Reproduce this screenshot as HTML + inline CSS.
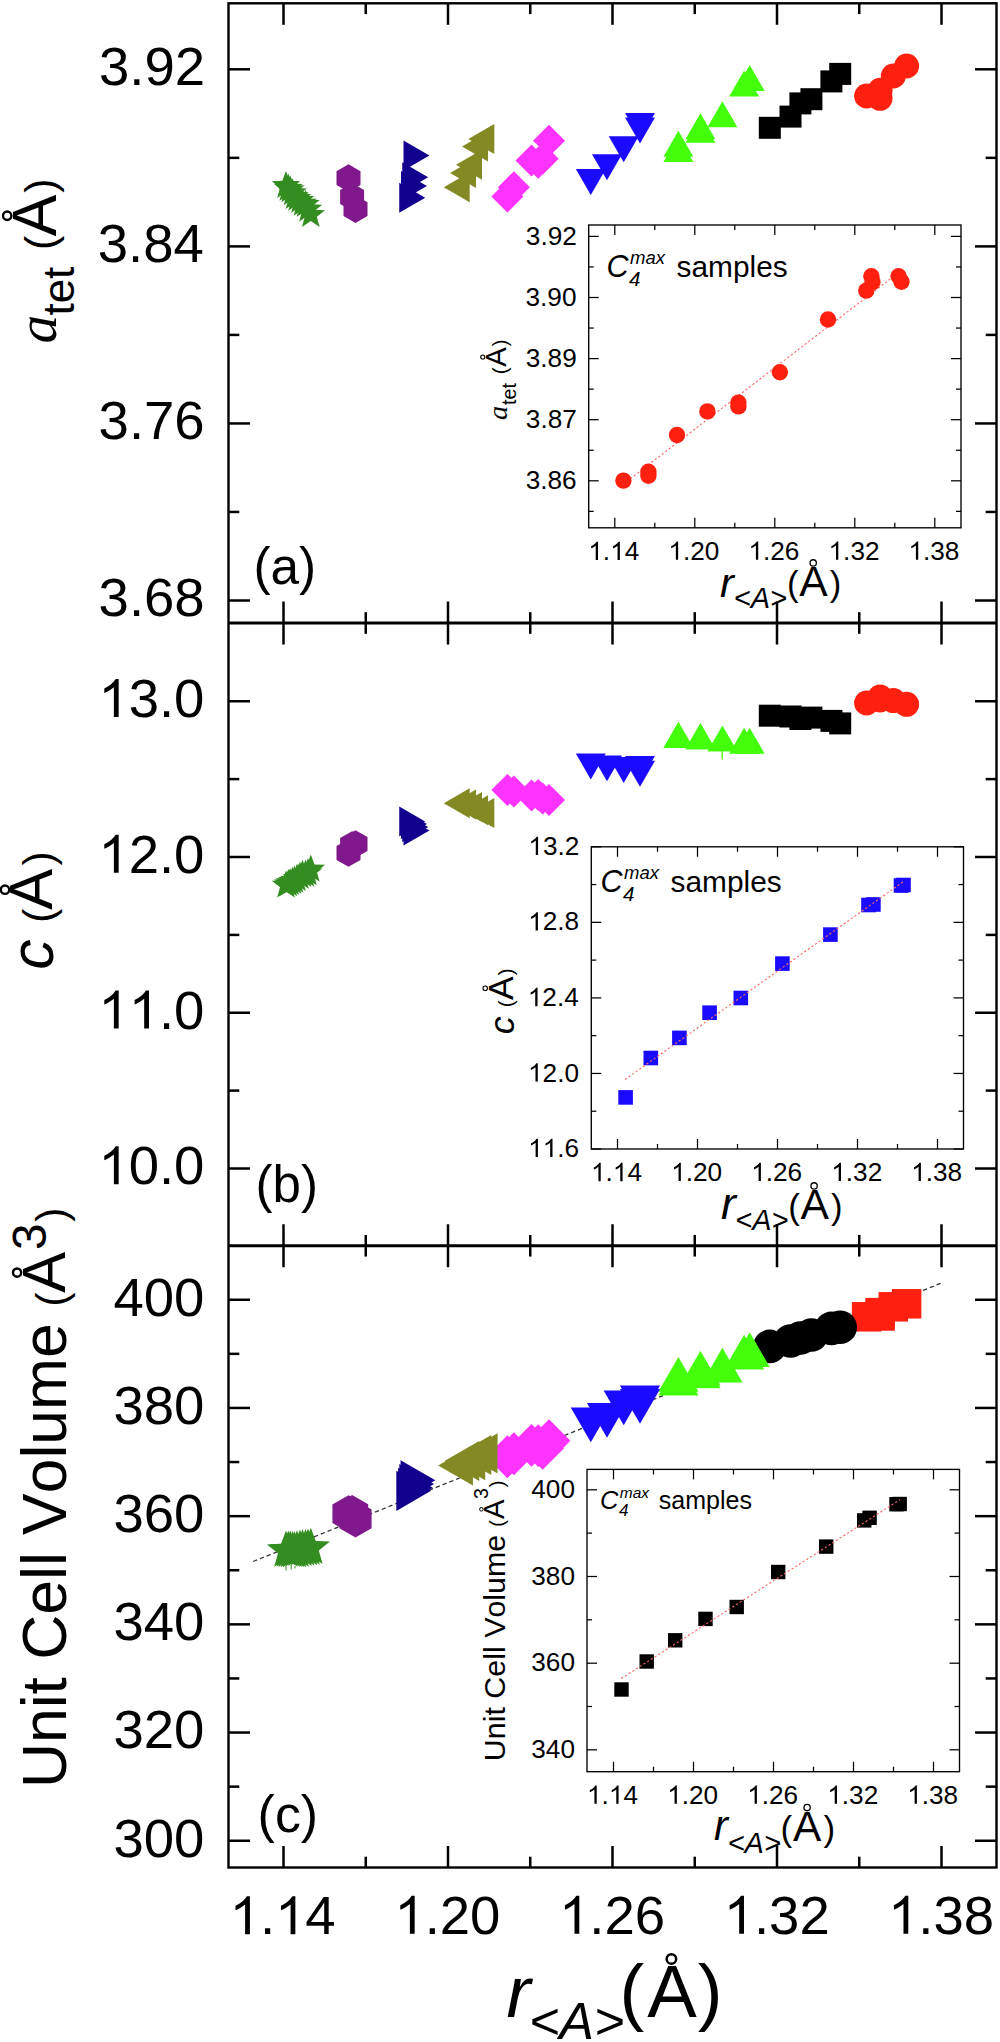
<!DOCTYPE html>
<html><head><meta charset="utf-8"><style>html,body{margin:0;padding:0;background:#fff;}svg{display:block;}text{font-kerning:none;}</style></head>
<body><svg width="1000" height="2042" viewBox="0 0 1000 2042">
<rect width="1000" height="2042" fill="#fff"/>
<rect x="228.5" y="3.3" width="768" height="1864.2" fill="none" stroke="#000" stroke-width="2.4"/>
<line x1="228.5" y1="623" x2="996.5" y2="623" stroke="#000" stroke-width="3"/>
<line x1="228.5" y1="1245.75" x2="996.5" y2="1245.75" stroke="#000" stroke-width="3"/>
<line x1="283.5" y1="3.3" x2="283.5" y2="24.8" stroke="#000" stroke-width="2.5"/>
<line x1="283.5" y1="623" x2="283.5" y2="601.5" stroke="#000" stroke-width="2.5"/>
<line x1="283.5" y1="623" x2="283.5" y2="644.5" stroke="#000" stroke-width="2.5"/>
<line x1="283.5" y1="1245.75" x2="283.5" y2="1224.25" stroke="#000" stroke-width="2.5"/>
<line x1="283.5" y1="1245.75" x2="283.5" y2="1267.25" stroke="#000" stroke-width="2.5"/>
<line x1="283.5" y1="1867.5" x2="283.5" y2="1846" stroke="#000" stroke-width="2.5"/>
<line x1="365.75" y1="3.3" x2="365.75" y2="14.1" stroke="#000" stroke-width="2.5"/>
<line x1="365.75" y1="623" x2="365.75" y2="612.2" stroke="#000" stroke-width="2.5"/>
<line x1="365.75" y1="623" x2="365.75" y2="633.8" stroke="#000" stroke-width="2.5"/>
<line x1="365.75" y1="1245.75" x2="365.75" y2="1234.95" stroke="#000" stroke-width="2.5"/>
<line x1="365.75" y1="1245.75" x2="365.75" y2="1256.55" stroke="#000" stroke-width="2.5"/>
<line x1="365.75" y1="1867.5" x2="365.75" y2="1856.7" stroke="#000" stroke-width="2.5"/>
<line x1="448" y1="3.3" x2="448" y2="24.8" stroke="#000" stroke-width="2.5"/>
<line x1="448" y1="623" x2="448" y2="601.5" stroke="#000" stroke-width="2.5"/>
<line x1="448" y1="623" x2="448" y2="644.5" stroke="#000" stroke-width="2.5"/>
<line x1="448" y1="1245.75" x2="448" y2="1224.25" stroke="#000" stroke-width="2.5"/>
<line x1="448" y1="1245.75" x2="448" y2="1267.25" stroke="#000" stroke-width="2.5"/>
<line x1="448" y1="1867.5" x2="448" y2="1846" stroke="#000" stroke-width="2.5"/>
<line x1="530.25" y1="3.3" x2="530.25" y2="14.1" stroke="#000" stroke-width="2.5"/>
<line x1="530.25" y1="623" x2="530.25" y2="612.2" stroke="#000" stroke-width="2.5"/>
<line x1="530.25" y1="623" x2="530.25" y2="633.8" stroke="#000" stroke-width="2.5"/>
<line x1="530.25" y1="1245.75" x2="530.25" y2="1234.95" stroke="#000" stroke-width="2.5"/>
<line x1="530.25" y1="1245.75" x2="530.25" y2="1256.55" stroke="#000" stroke-width="2.5"/>
<line x1="530.25" y1="1867.5" x2="530.25" y2="1856.7" stroke="#000" stroke-width="2.5"/>
<line x1="612.5" y1="3.3" x2="612.5" y2="24.8" stroke="#000" stroke-width="2.5"/>
<line x1="612.5" y1="623" x2="612.5" y2="601.5" stroke="#000" stroke-width="2.5"/>
<line x1="612.5" y1="623" x2="612.5" y2="644.5" stroke="#000" stroke-width="2.5"/>
<line x1="612.5" y1="1245.75" x2="612.5" y2="1224.25" stroke="#000" stroke-width="2.5"/>
<line x1="612.5" y1="1245.75" x2="612.5" y2="1267.25" stroke="#000" stroke-width="2.5"/>
<line x1="612.5" y1="1867.5" x2="612.5" y2="1846" stroke="#000" stroke-width="2.5"/>
<line x1="694.75" y1="3.3" x2="694.75" y2="14.1" stroke="#000" stroke-width="2.5"/>
<line x1="694.75" y1="623" x2="694.75" y2="612.2" stroke="#000" stroke-width="2.5"/>
<line x1="694.75" y1="623" x2="694.75" y2="633.8" stroke="#000" stroke-width="2.5"/>
<line x1="694.75" y1="1245.75" x2="694.75" y2="1234.95" stroke="#000" stroke-width="2.5"/>
<line x1="694.75" y1="1245.75" x2="694.75" y2="1256.55" stroke="#000" stroke-width="2.5"/>
<line x1="694.75" y1="1867.5" x2="694.75" y2="1856.7" stroke="#000" stroke-width="2.5"/>
<line x1="777" y1="3.3" x2="777" y2="24.8" stroke="#000" stroke-width="2.5"/>
<line x1="777" y1="623" x2="777" y2="601.5" stroke="#000" stroke-width="2.5"/>
<line x1="777" y1="623" x2="777" y2="644.5" stroke="#000" stroke-width="2.5"/>
<line x1="777" y1="1245.75" x2="777" y2="1224.25" stroke="#000" stroke-width="2.5"/>
<line x1="777" y1="1245.75" x2="777" y2="1267.25" stroke="#000" stroke-width="2.5"/>
<line x1="777" y1="1867.5" x2="777" y2="1846" stroke="#000" stroke-width="2.5"/>
<line x1="859.25" y1="3.3" x2="859.25" y2="14.1" stroke="#000" stroke-width="2.5"/>
<line x1="859.25" y1="623" x2="859.25" y2="612.2" stroke="#000" stroke-width="2.5"/>
<line x1="859.25" y1="623" x2="859.25" y2="633.8" stroke="#000" stroke-width="2.5"/>
<line x1="859.25" y1="1245.75" x2="859.25" y2="1234.95" stroke="#000" stroke-width="2.5"/>
<line x1="859.25" y1="1245.75" x2="859.25" y2="1256.55" stroke="#000" stroke-width="2.5"/>
<line x1="859.25" y1="1867.5" x2="859.25" y2="1856.7" stroke="#000" stroke-width="2.5"/>
<line x1="941.5" y1="3.3" x2="941.5" y2="24.8" stroke="#000" stroke-width="2.5"/>
<line x1="941.5" y1="623" x2="941.5" y2="601.5" stroke="#000" stroke-width="2.5"/>
<line x1="941.5" y1="623" x2="941.5" y2="644.5" stroke="#000" stroke-width="2.5"/>
<line x1="941.5" y1="1245.75" x2="941.5" y2="1224.25" stroke="#000" stroke-width="2.5"/>
<line x1="941.5" y1="1245.75" x2="941.5" y2="1267.25" stroke="#000" stroke-width="2.5"/>
<line x1="941.5" y1="1867.5" x2="941.5" y2="1846" stroke="#000" stroke-width="2.5"/>
<line x1="228.5" y1="69.3" x2="250" y2="69.3" stroke="#000" stroke-width="2.5"/>
<line x1="996.5" y1="69.3" x2="975" y2="69.3" stroke="#000" stroke-width="2.5"/>
<text x="98.97" y="85.17" font-family="'Liberation Sans', sans-serif" font-size="54.5" fill="#000">3.92</text>
<line x1="228.5" y1="246.4" x2="250" y2="246.4" stroke="#000" stroke-width="2.5"/>
<line x1="996.5" y1="246.4" x2="975" y2="246.4" stroke="#000" stroke-width="2.5"/>
<text x="97.82" y="262.27" font-family="'Liberation Sans', sans-serif" font-size="54.5" fill="#000">3.84</text>
<line x1="228.5" y1="423.45" x2="250" y2="423.45" stroke="#000" stroke-width="2.5"/>
<line x1="996.5" y1="423.45" x2="975" y2="423.45" stroke="#000" stroke-width="2.5"/>
<text x="98.62" y="439.32" font-family="'Liberation Sans', sans-serif" font-size="54.5" fill="#000">3.76</text>
<line x1="228.5" y1="600.5" x2="250" y2="600.5" stroke="#000" stroke-width="2.5"/>
<line x1="996.5" y1="600.5" x2="975" y2="600.5" stroke="#000" stroke-width="2.5"/>
<text x="98.6" y="616.37" font-family="'Liberation Sans', sans-serif" font-size="54.5" fill="#000">3.68</text>
<line x1="228.5" y1="157.85" x2="239.3" y2="157.85" stroke="#000" stroke-width="2.5"/>
<line x1="996.5" y1="157.85" x2="985.7" y2="157.85" stroke="#000" stroke-width="2.5"/>
<line x1="228.5" y1="334.9" x2="239.3" y2="334.9" stroke="#000" stroke-width="2.5"/>
<line x1="996.5" y1="334.9" x2="985.7" y2="334.9" stroke="#000" stroke-width="2.5"/>
<line x1="228.5" y1="511.95" x2="239.3" y2="511.95" stroke="#000" stroke-width="2.5"/>
<line x1="996.5" y1="511.95" x2="985.7" y2="511.95" stroke="#000" stroke-width="2.5"/>
<line x1="228.5" y1="701.25" x2="250" y2="701.25" stroke="#000" stroke-width="2.5"/>
<line x1="996.5" y1="701.25" x2="975" y2="701.25" stroke="#000" stroke-width="2.5"/>
<path d="M763 0H583V1118Q518 1058 412 997Q306 937 223 907V1076Q375 1146 489 1244Q603 1343 650 1429H763Z" fill="#000" transform="translate(98.36 717.12) scale(0.02661 -0.02661)"/>
<text x="128.67" y="717.12" font-family="'Liberation Sans', sans-serif" font-size="54.5" fill="#000">3.0</text>
<line x1="228.5" y1="857" x2="250" y2="857" stroke="#000" stroke-width="2.5"/>
<line x1="996.5" y1="857" x2="975" y2="857" stroke="#000" stroke-width="2.5"/>
<path d="M763 0H583V1118Q518 1058 412 997Q306 937 223 907V1076Q375 1146 489 1244Q603 1343 650 1429H763Z" fill="#000" transform="translate(98.36 872.87) scale(0.02661 -0.02661)"/>
<text x="128.67" y="872.87" font-family="'Liberation Sans', sans-serif" font-size="54.5" fill="#000">2.0</text>
<line x1="228.5" y1="1012.75" x2="250" y2="1012.75" stroke="#000" stroke-width="2.5"/>
<line x1="996.5" y1="1012.75" x2="975" y2="1012.75" stroke="#000" stroke-width="2.5"/>
<path d="M763 0H583V1118Q518 1058 412 997Q306 937 223 907V1076Q375 1146 489 1244Q603 1343 650 1429H763Z" fill="#000" transform="translate(98.36 1028.62) scale(0.02661 -0.02661)"/>
<path d="M763 0H583V1118Q518 1058 412 997Q306 937 223 907V1076Q375 1146 489 1244Q603 1343 650 1429H763Z" fill="#000" transform="translate(128.67 1028.62) scale(0.02661 -0.02661)"/>
<text x="158.98" y="1028.62" font-family="'Liberation Sans', sans-serif" font-size="54.5" fill="#000">.0</text>
<line x1="228.5" y1="1168.5" x2="250" y2="1168.5" stroke="#000" stroke-width="2.5"/>
<line x1="996.5" y1="1168.5" x2="975" y2="1168.5" stroke="#000" stroke-width="2.5"/>
<path d="M763 0H583V1118Q518 1058 412 997Q306 937 223 907V1076Q375 1146 489 1244Q603 1343 650 1429H763Z" fill="#000" transform="translate(98.36 1184.37) scale(0.02661 -0.02661)"/>
<text x="128.67" y="1184.37" font-family="'Liberation Sans', sans-serif" font-size="54.5" fill="#000">0.0</text>
<line x1="228.5" y1="779.1" x2="239.3" y2="779.1" stroke="#000" stroke-width="2.5"/>
<line x1="996.5" y1="779.1" x2="985.7" y2="779.1" stroke="#000" stroke-width="2.5"/>
<line x1="228.5" y1="934.9" x2="239.3" y2="934.9" stroke="#000" stroke-width="2.5"/>
<line x1="996.5" y1="934.9" x2="985.7" y2="934.9" stroke="#000" stroke-width="2.5"/>
<line x1="228.5" y1="1090.6" x2="239.3" y2="1090.6" stroke="#000" stroke-width="2.5"/>
<line x1="996.5" y1="1090.6" x2="985.7" y2="1090.6" stroke="#000" stroke-width="2.5"/>
<line x1="228.5" y1="1299.75" x2="250" y2="1299.75" stroke="#000" stroke-width="2.5"/>
<line x1="996.5" y1="1299.75" x2="975" y2="1299.75" stroke="#000" stroke-width="2.5"/>
<text x="113.5" y="1315.62" font-family="'Liberation Sans', sans-serif" font-size="54.5" fill="#000">400</text>
<line x1="228.5" y1="1407.95" x2="250" y2="1407.95" stroke="#000" stroke-width="2.5"/>
<line x1="996.5" y1="1407.95" x2="975" y2="1407.95" stroke="#000" stroke-width="2.5"/>
<text x="113.5" y="1423.82" font-family="'Liberation Sans', sans-serif" font-size="54.5" fill="#000">380</text>
<line x1="228.5" y1="1516.15" x2="250" y2="1516.15" stroke="#000" stroke-width="2.5"/>
<line x1="996.5" y1="1516.15" x2="975" y2="1516.15" stroke="#000" stroke-width="2.5"/>
<text x="113.5" y="1532.02" font-family="'Liberation Sans', sans-serif" font-size="54.5" fill="#000">360</text>
<line x1="228.5" y1="1624.35" x2="250" y2="1624.35" stroke="#000" stroke-width="2.5"/>
<line x1="996.5" y1="1624.35" x2="975" y2="1624.35" stroke="#000" stroke-width="2.5"/>
<text x="113.5" y="1640.22" font-family="'Liberation Sans', sans-serif" font-size="54.5" fill="#000">340</text>
<line x1="228.5" y1="1732.55" x2="250" y2="1732.55" stroke="#000" stroke-width="2.5"/>
<line x1="996.5" y1="1732.55" x2="975" y2="1732.55" stroke="#000" stroke-width="2.5"/>
<text x="113.5" y="1748.42" font-family="'Liberation Sans', sans-serif" font-size="54.5" fill="#000">320</text>
<line x1="228.5" y1="1840.75" x2="250" y2="1840.75" stroke="#000" stroke-width="2.5"/>
<line x1="996.5" y1="1840.75" x2="975" y2="1840.75" stroke="#000" stroke-width="2.5"/>
<text x="113.5" y="1856.62" font-family="'Liberation Sans', sans-serif" font-size="54.5" fill="#000">300</text>
<line x1="228.5" y1="1353.85" x2="239.3" y2="1353.85" stroke="#000" stroke-width="2.5"/>
<line x1="996.5" y1="1353.85" x2="985.7" y2="1353.85" stroke="#000" stroke-width="2.5"/>
<line x1="228.5" y1="1462.05" x2="239.3" y2="1462.05" stroke="#000" stroke-width="2.5"/>
<line x1="996.5" y1="1462.05" x2="985.7" y2="1462.05" stroke="#000" stroke-width="2.5"/>
<line x1="228.5" y1="1570.25" x2="239.3" y2="1570.25" stroke="#000" stroke-width="2.5"/>
<line x1="996.5" y1="1570.25" x2="985.7" y2="1570.25" stroke="#000" stroke-width="2.5"/>
<line x1="228.5" y1="1678.45" x2="239.3" y2="1678.45" stroke="#000" stroke-width="2.5"/>
<line x1="996.5" y1="1678.45" x2="985.7" y2="1678.45" stroke="#000" stroke-width="2.5"/>
<line x1="228.5" y1="1786.65" x2="239.3" y2="1786.65" stroke="#000" stroke-width="2.5"/>
<line x1="996.5" y1="1786.65" x2="985.7" y2="1786.65" stroke="#000" stroke-width="2.5"/>
<path d="M763 0H583V1118Q518 1058 412 997Q306 937 223 907V1076Q375 1146 489 1244Q603 1343 650 1429H763Z" fill="#000" transform="translate(229.59 1934.3) scale(0.02661 -0.02661)"/>
<text x="259.91" y="1934.3" font-family="'Liberation Sans', sans-serif" font-size="54.5" fill="#000">.</text>
<path d="M763 0H583V1118Q518 1058 412 997Q306 937 223 907V1076Q375 1146 489 1244Q603 1343 650 1429H763Z" fill="#000" transform="translate(275.05 1934.3) scale(0.02661 -0.02661)"/>
<text x="305.36" y="1934.3" font-family="'Liberation Sans', sans-serif" font-size="54.5" fill="#000">4</text>
<path d="M763 0H583V1118Q518 1058 412 997Q306 937 223 907V1076Q375 1146 489 1244Q603 1343 650 1429H763Z" fill="#000" transform="translate(394.36 1933.77) scale(0.02661 -0.02661)"/>
<text x="424.67" y="1933.77" font-family="'Liberation Sans', sans-serif" font-size="54.5" fill="#000">.20</text>
<path d="M763 0H583V1118Q518 1058 412 997Q306 937 223 907V1076Q375 1146 489 1244Q603 1343 650 1429H763Z" fill="#000" transform="translate(558.99 1933.77) scale(0.02661 -0.02661)"/>
<text x="589.3" y="1933.77" font-family="'Liberation Sans', sans-serif" font-size="54.5" fill="#000">.26</text>
<path d="M763 0H583V1118Q518 1058 412 997Q306 937 223 907V1076Q375 1146 489 1244Q603 1343 650 1429H763Z" fill="#000" transform="translate(723.67 1933.77) scale(0.02661 -0.02661)"/>
<text x="753.98" y="1933.77" font-family="'Liberation Sans', sans-serif" font-size="54.5" fill="#000">.32</text>
<path d="M763 0H583V1118Q518 1058 412 997Q306 937 223 907V1076Q375 1146 489 1244Q603 1343 650 1429H763Z" fill="#000" transform="translate(887.98 1933.77) scale(0.02661 -0.02661)"/>
<text x="918.29" y="1933.77" font-family="'Liberation Sans', sans-serif" font-size="54.5" fill="#000">.38</text>
<text x="253.38" y="583.53" font-family="'Liberation Sans', sans-serif" font-size="51.33" fill="#000">(a)</text>
<text x="255.54" y="1202.22" font-family="'Liberation Sans', sans-serif" font-size="51.07" fill="#000">(b)</text>
<text x="257.61" y="1831.68" font-family="'Liberation Sans', sans-serif" font-size="51.91" fill="#000">(c)</text>
<text x="506.41" y="2017.1" font-family="'Liberation Sans', sans-serif" font-style="italic" font-size="72.48" fill="#000">r</text>
<text x="528.98" y="2039.15" font-family="'Liberation Sans', sans-serif" font-style="italic" font-size="52.04" fill="#000">&lt;A&gt;</text>
<text x="619.58" y="2017.2" font-family="'Liberation Sans', sans-serif" font-size="74.38" fill="#000">(</text>
<text x="647.27" y="2016.91" font-family="'Liberation Sans', sans-serif" font-size="74.3" fill="#000">A</text>
<circle cx="671.4" cy="1959.1" r="4.75" fill="none" stroke="#000" stroke-width="2.5"/>
<text x="697.85" y="2017.2" font-family="'Liberation Sans', sans-serif" font-size="74.38" fill="#000">)</text>
<text transform="translate(55.71 343.52) rotate(-90)" font-family="'Liberation Serif', serif" font-style="italic" font-size="57.18" fill="#000">a</text>
<text transform="translate(73.87 315.6) rotate(-90)" font-family="'Liberation Sans', sans-serif" font-size="44.04" fill="#000">tet</text>
<text transform="translate(55.4 250.12) rotate(-90)" font-family="'Liberation Sans', sans-serif" font-size="42.51" fill="#000">(</text>
<text transform="translate(55.55 236.37) rotate(-90)" font-family="'Liberation Sans', sans-serif" font-size="62.28" fill="#000">A</text>
<circle cx="7.2" cy="215.75" r="4.2" fill="none" stroke="#000" stroke-width="2.4"/>
<text transform="translate(55.4 192.63) rotate(-90)" font-family="'Liberation Sans', sans-serif" font-size="42.51" fill="#000">)</text>
<text transform="translate(53 969.8) rotate(-90)" font-family="'Liberation Sans', sans-serif" font-style="italic" font-size="60.97" fill="#000">c</text>
<text transform="translate(52.64 922.83) rotate(-90)" font-family="'Liberation Sans', sans-serif" font-size="42.29" fill="#000">(</text>
<text transform="translate(52.27 909.65) rotate(-90)" font-family="'Liberation Sans', sans-serif" font-size="61.46" fill="#000">A</text>
<circle cx="5" cy="889.7" r="4.2" fill="none" stroke="#000" stroke-width="2.4"/>
<text transform="translate(52.64 865.55) rotate(-90)" font-family="'Liberation Sans', sans-serif" font-size="42.29" fill="#000">)</text>
<text transform="translate(65.99 1788.01) rotate(-90)" font-family="'Liberation Sans', sans-serif" font-size="62.4" fill="#000">Unit Cell Volume</text>
<text transform="translate(65.59 1306.49) rotate(-90)" font-family="'Liberation Sans', sans-serif" font-size="42.08" fill="#000">(</text>
<text transform="translate(65.01 1292.69) rotate(-90)" font-family="'Liberation Sans', sans-serif" font-size="61.45" fill="#000">A</text>
<circle cx="17.1" cy="1272.6" r="4.1" fill="none" stroke="#000" stroke-width="2.4"/>
<text transform="translate(45.93 1249.99) rotate(-90)" font-family="'Liberation Sans', sans-serif" font-size="47.74" fill="#000">3</text>
<text transform="translate(65.59 1221.67) rotate(-90)" font-family="'Liberation Sans', sans-serif" font-size="42.08" fill="#000">)</text>
<line x1="253.1" y1="1561.5" x2="942.9" y2="1282.4" stroke="#333" stroke-width="1.3" stroke-dasharray="4.3 3"/>
<circle cx="866.6" cy="96" r="12.5" fill="#FF2010"/>
<circle cx="880.1" cy="90.3" r="12.5" fill="#FF2010"/>
<circle cx="880.1" cy="98.3" r="12.5" fill="#FF2010"/>
<circle cx="893.3" cy="76" r="12.5" fill="#FF2010"/>
<circle cx="906.6" cy="66" r="12.5" fill="#FF2010"/>
<rect x="758.8" y="116.8" width="22" height="22" fill="#000000"/>
<rect x="779.5" y="105.6" width="22" height="22" fill="#000000"/>
<rect x="789.4" y="92.4" width="22" height="22" fill="#000000"/>
<rect x="800.4" y="88.2" width="22" height="22" fill="#000000"/>
<rect x="820.4" y="70.4" width="22" height="22" fill="#000000"/>
<rect x="829.2" y="62.9" width="22" height="22" fill="#000000"/>
<polygon points="678.4,130.8 693.38,156.75 663.42,156.75" fill="#44FF0A"/>
<polygon points="678.4,136.1 693.38,162.05 663.42,162.05" fill="#44FF0A"/>
<polygon points="700.4,113.2 715.38,139.15 685.42,139.15" fill="#44FF0A"/>
<polygon points="700.4,116.7 715.38,142.65 685.42,142.65" fill="#44FF0A"/>
<polygon points="722.4,101.3 737.38,127.25 707.42,127.25" fill="#44FF0A"/>
<polygon points="744.1,70.5 759.08,96.45 729.12,96.45" fill="#44FF0A"/>
<polygon points="749.7,65 764.68,90.95 734.72,90.95" fill="#44FF0A"/>
<polygon points="590.8,195.05 575.82,169.1 605.78,169.1" fill="#1A0AFF"/>
<polygon points="607,180.25 592.02,154.3 621.98,154.3" fill="#1A0AFF"/>
<polygon points="623.7,162.25 608.72,136.3 638.68,136.3" fill="#1A0AFF"/>
<polygon points="640,138.85 625.02,112.9 654.98,112.9" fill="#1A0AFF"/>
<polygon points="640,143.55 625.02,117.6 654.98,117.6" fill="#1A0AFF"/>
<polygon points="507.4,180.6 523.4,196.6 507.4,212.6 491.4,196.6" fill="#FF33FF"/>
<polygon points="513.9,171.2 529.9,187.2 513.9,203.2 497.9,187.2" fill="#FF33FF"/>
<polygon points="531.5,144.4 547.5,160.4 531.5,176.4 515.5,160.4" fill="#FF33FF"/>
<polygon points="538.2,146.8 554.2,162.8 538.2,178.8 522.2,162.8" fill="#FF33FF"/>
<polygon points="542.6,142.8 558.6,158.8 542.6,174.8 526.6,158.8" fill="#FF33FF"/>
<polygon points="549,124.8 565,140.8 549,156.8 533,140.8" fill="#FF33FF"/>
<polygon points="443.75,187.2 469.7,172.22 469.7,202.18" fill="#838923"/>
<polygon points="450.05,173.1 476,158.12 476,188.08" fill="#838923"/>
<polygon points="456.05,164.7 482,149.72 482,179.68" fill="#838923"/>
<polygon points="462.05,146.4 488,131.42 488,161.38" fill="#838923"/>
<polygon points="468.35,138.9 494.3,123.92 494.3,153.88" fill="#838923"/>
<polygon points="425.2,197.75 399.25,212.73 399.25,182.77" fill="#12008E"/>
<polygon points="426.95,186 401,200.98 401,171.02" fill="#12008E"/>
<polygon points="428.2,177.25 402.25,192.23 402.25,162.27" fill="#12008E"/>
<polygon points="429.45,155.5 403.5,170.48 403.5,140.52" fill="#12008E"/>
<polygon points="348.5,164.24 360.5,171.17 360.5,185.03 348.5,191.96 336.5,185.03 336.5,171.17" fill="#801A8C"/>
<polygon points="352.1,183.14 364.1,190.07 364.1,203.93 352.1,210.86 340.1,203.93 340.1,190.07" fill="#801A8C"/>
<polygon points="355.5,195.24 367.5,202.17 367.5,216.03 355.5,222.96 343.5,216.03 343.5,202.17" fill="#801A8C"/>
<polygon points="286,170.9 289.7,180.8 300.27,181.26 291.99,187.85 294.82,198.04 286,192.2 277.18,198.04 280.01,187.85 271.73,181.26 282.3,180.8" fill="#348D20"/>
<polygon points="288.3,173.53 292,183.43 302.57,183.89 294.29,190.48 297.12,200.66 288.3,194.83 279.48,200.66 282.31,190.48 274.03,183.89 284.6,183.43" fill="#348D20"/>
<polygon points="290.2,175.17 293.9,185.08 304.47,185.54 296.19,192.12 299.02,202.31 290.2,196.47 281.38,202.31 284.21,192.12 275.93,185.54 286.5,185.08" fill="#348D20"/>
<polygon points="292.5,178.13 296.2,188.03 306.77,188.49 298.49,195.08 301.32,205.26 292.5,199.43 283.68,205.26 286.51,195.08 278.23,188.49 288.8,188.03" fill="#348D20"/>
<polygon points="294.5,181.78 298.2,191.68 308.77,192.14 300.49,198.73 303.32,208.91 294.5,203.08 285.68,208.91 288.51,198.73 280.23,192.14 290.8,191.68" fill="#348D20"/>
<polygon points="297,183.52 300.7,193.42 311.27,193.88 302.99,200.47 305.82,210.65 297,204.82 288.18,210.65 291.01,200.47 282.73,193.88 293.3,193.42" fill="#348D20"/>
<polygon points="300,185.73 303.7,195.64 314.27,196.1 305.99,202.68 308.82,212.87 300,207.03 291.18,212.87 294.01,202.68 285.73,196.1 296.3,195.64" fill="#348D20"/>
<polygon points="302.5,188.5 306.2,198.4 316.77,198.86 308.49,205.45 311.32,215.64 302.5,209.8 293.68,215.64 296.51,205.45 288.23,198.86 298.8,198.4" fill="#348D20"/>
<polygon points="305.5,189.7 309.2,199.6 319.77,200.06 311.49,206.65 314.32,216.84 305.5,211 296.68,216.84 299.51,206.65 291.23,200.06 301.8,199.6" fill="#348D20"/>
<polygon points="308,194.3 311.7,204.2 322.27,204.66 313.99,211.25 316.82,221.44 308,215.6 299.18,221.44 302.01,211.25 293.73,204.66 304.3,204.2" fill="#348D20"/>
<polygon points="310.8,199.8 314.5,209.7 325.07,210.16 316.79,216.75 319.62,226.94 310.8,221.1 301.98,226.94 304.81,216.75 296.53,210.16 307.1,209.7" fill="#348D20"/>
<circle cx="866.6" cy="703" r="12.5" fill="#FF2010"/>
<circle cx="880.1" cy="697" r="12.5" fill="#FF2010"/>
<circle cx="880.1" cy="700" r="12.5" fill="#FF2010"/>
<circle cx="893.3" cy="700.6" r="12.5" fill="#FF2010"/>
<circle cx="906.6" cy="704.3" r="12.5" fill="#FF2010"/>
<rect x="758.8" y="704.7" width="22" height="22" fill="#000000"/>
<rect x="779.5" y="705.5" width="22" height="22" fill="#000000"/>
<rect x="789.4" y="708" width="22" height="22" fill="#000000"/>
<rect x="800.4" y="706.6" width="22" height="22" fill="#000000"/>
<rect x="820.4" y="709.9" width="22" height="22" fill="#000000"/>
<rect x="829.2" y="712.4" width="22" height="22" fill="#000000"/>
<polygon points="678.4,722 693.38,747.95 663.42,747.95" fill="#44FF0A"/>
<polygon points="678.4,722 693.38,747.95 663.42,747.95" fill="#44FF0A"/>
<polygon points="700.4,723.2 715.38,749.15 685.42,749.15" fill="#44FF0A"/>
<polygon points="700.4,723.2 715.38,749.15 685.42,749.15" fill="#44FF0A"/>
<polygon points="722.4,725.6 737.38,751.55 707.42,751.55" fill="#44FF0A"/>
<polygon points="744.1,727.8 759.08,753.75 729.12,753.75" fill="#44FF0A"/>
<polygon points="749.7,727.8 764.68,753.75 734.72,753.75" fill="#44FF0A"/>
<polygon points="590.8,779.45 575.82,753.5 605.78,753.5" fill="#1A0AFF"/>
<polygon points="607,781.35 592.02,755.4 621.98,755.4" fill="#1A0AFF"/>
<polygon points="623.7,782.95 608.72,757 638.68,757" fill="#1A0AFF"/>
<polygon points="640,781.95 625.02,756 654.98,756" fill="#1A0AFF"/>
<polygon points="640,786.75 625.02,760.8 654.98,760.8" fill="#1A0AFF"/>
<polygon points="507.4,774 523.4,790 507.4,806 491.4,790" fill="#FF33FF"/>
<polygon points="513.9,775.4 529.9,791.4 513.9,807.4 497.9,791.4" fill="#FF33FF"/>
<polygon points="531.5,779.4 547.5,795.4 531.5,811.4 515.5,795.4" fill="#FF33FF"/>
<polygon points="538.2,779 554.2,795 538.2,811 522.2,795" fill="#FF33FF"/>
<polygon points="542.6,782.5 558.6,798.5 542.6,814.5 526.6,798.5" fill="#FF33FF"/>
<polygon points="549,783.9 565,799.9 549,815.9 533,799.9" fill="#FF33FF"/>
<polygon points="443.75,803.15 469.7,788.17 469.7,818.13" fill="#838923"/>
<polygon points="450.05,804.45 476,789.47 476,819.43" fill="#838923"/>
<polygon points="456.05,807.1 482,792.12 482,822.08" fill="#838923"/>
<polygon points="462.05,810.3 488,795.32 488,825.28" fill="#838923"/>
<polygon points="468.35,812.9 494.3,797.92 494.3,827.88" fill="#838923"/>
<polygon points="425.2,821.5 399.25,836.48 399.25,806.52" fill="#12008E"/>
<polygon points="426.95,824 401,838.98 401,809.02" fill="#12008E"/>
<polygon points="428.2,827 402.25,841.98 402.25,812.02" fill="#12008E"/>
<polygon points="429.45,830.5 403.5,845.48 403.5,815.52" fill="#12008E"/>
<polygon points="348.5,839.14 360.5,846.07 360.5,859.93 348.5,866.86 336.5,859.93 336.5,846.07" fill="#801A8C"/>
<polygon points="352.1,831.14 364.1,838.07 364.1,851.93 352.1,858.86 340.1,851.93 340.1,838.07" fill="#801A8C"/>
<polygon points="355.5,830.14 367.5,837.07 367.5,850.93 355.5,857.86 343.5,850.93 343.5,837.07" fill="#801A8C"/>
<polygon points="286,870.4 289.7,880.3 300.27,880.76 291.99,887.35 294.82,897.54 286,891.7 277.18,897.54 280.01,887.35 271.73,880.76 282.3,880.3" fill="#348D20"/>
<polygon points="288.3,869.07 292,878.97 302.57,879.44 294.29,886.02 297.12,896.21 288.3,890.37 279.48,896.21 282.31,886.02 274.03,879.44 284.6,878.97" fill="#348D20"/>
<polygon points="290.2,867.97 293.9,877.88 304.47,878.34 296.19,884.92 299.02,895.11 290.2,889.27 281.38,895.11 284.21,884.92 275.93,878.34 286.5,877.88" fill="#348D20"/>
<polygon points="292.5,866.66 296.2,876.56 306.77,877.02 298.49,883.6 301.32,893.79 292.5,887.96 283.68,893.79 286.51,883.6 278.23,877.02 288.8,876.56" fill="#348D20"/>
<polygon points="294.5,865.51 298.2,875.42 308.77,875.88 300.49,882.46 303.32,892.65 294.5,886.81 285.68,892.65 288.51,882.46 280.23,875.88 290.8,875.42" fill="#348D20"/>
<polygon points="297,863.81 300.7,873.71 311.27,874.18 302.99,880.76 305.82,890.95 297,885.11 288.18,890.95 291.01,880.76 282.73,874.18 293.3,873.71" fill="#348D20"/>
<polygon points="300,861.58 303.7,871.49 314.27,871.95 305.99,878.53 308.82,888.72 300,882.88 291.18,888.72 294.01,878.53 285.73,871.95 296.3,871.49" fill="#348D20"/>
<polygon points="302.5,859.79 306.2,869.69 316.77,870.16 308.49,876.74 311.32,886.93 302.5,881.09 293.68,886.93 296.51,876.74 288.23,870.16 298.8,869.69" fill="#348D20"/>
<polygon points="305.5,859.53 309.2,869.43 319.77,869.9 311.49,876.48 314.32,886.67 305.5,880.83 296.68,886.67 299.51,876.48 291.23,869.9 301.8,869.43" fill="#348D20"/>
<polygon points="308,858.11 311.7,868.01 322.27,868.48 313.99,875.06 316.82,885.25 308,879.41 299.18,885.25 302.01,875.06 293.73,868.48 304.3,868.01" fill="#348D20"/>
<polygon points="310.8,854.5 314.5,864.4 325.07,864.86 316.79,871.45 319.62,881.64 310.8,875.8 301.98,881.64 304.81,871.45 296.53,864.86 307.1,864.4" fill="#348D20"/>
<rect x="851.85" y="1302.05" width="29.5" height="29.5" fill="#FF2010"/>
<rect x="865.35" y="1297.85" width="29.5" height="29.5" fill="#FF2010"/>
<rect x="865.35" y="1301.25" width="29.5" height="29.5" fill="#FF2010"/>
<rect x="878.55" y="1292.05" width="29.5" height="29.5" fill="#FF2010"/>
<rect x="891.85" y="1289.05" width="29.5" height="29.5" fill="#FF2010"/>
<circle cx="769.8" cy="1346.4" r="16.8" fill="#000000"/>
<circle cx="790.5" cy="1341" r="16.8" fill="#000000"/>
<circle cx="800.4" cy="1338" r="16.8" fill="#000000"/>
<circle cx="811.4" cy="1335" r="16.8" fill="#000000"/>
<circle cx="831.4" cy="1328.4" r="16.8" fill="#000000"/>
<circle cx="840.2" cy="1327.2" r="16.8" fill="#000000"/>
<polygon points="678.4,1356.9 698.48,1391.67 658.32,1391.67" fill="#44FF0A"/>
<polygon points="678.4,1360.8 698.48,1395.57 658.32,1395.57" fill="#44FF0A"/>
<polygon points="700.4,1350.8 720.48,1385.57 680.32,1385.57" fill="#44FF0A"/>
<polygon points="700.4,1353.4 720.48,1388.17 680.32,1388.17" fill="#44FF0A"/>
<polygon points="722.4,1347.8 742.48,1382.57 702.32,1382.57" fill="#44FF0A"/>
<polygon points="744.1,1334.8 764.18,1369.57 724.02,1369.57" fill="#44FF0A"/>
<polygon points="749.7,1332.2 769.78,1366.97 729.62,1366.97" fill="#44FF0A"/>
<polygon points="590.8,1442.27 570.72,1407.5 610.88,1407.5" fill="#1A0AFF"/>
<polygon points="607,1437.77 586.92,1403 627.08,1403" fill="#1A0AFF"/>
<polygon points="623.7,1425.27 603.62,1390.5 643.78,1390.5" fill="#1A0AFF"/>
<polygon points="640,1420.27 619.92,1385.5 660.08,1385.5" fill="#1A0AFF"/>
<polygon points="640,1423.77 619.92,1389 660.08,1389" fill="#1A0AFF"/>
<polygon points="507.4,1435.31 528.84,1456.75 507.4,1478.19 485.96,1456.75" fill="#FF33FF"/>
<polygon points="513.9,1432.26 535.34,1453.7 513.9,1475.14 492.46,1453.7" fill="#FF33FF"/>
<polygon points="531.5,1423.96 552.94,1445.4 531.5,1466.84 510.06,1445.4" fill="#FF33FF"/>
<polygon points="538.2,1424.16 559.64,1445.6 538.2,1467.04 516.76,1445.6" fill="#FF33FF"/>
<polygon points="542.6,1426.76 564.04,1448.2 542.6,1469.64 521.16,1448.2" fill="#FF33FF"/>
<polygon points="549,1419.31 570.44,1440.75 549,1462.19 527.56,1440.75" fill="#FF33FF"/>
<polygon points="438.17,1465.4 472.94,1445.32 472.94,1485.48" fill="#838923"/>
<polygon points="444.47,1461 479.24,1440.92 479.24,1481.08" fill="#838923"/>
<polygon points="450.47,1460.2 485.24,1440.12 485.24,1480.28" fill="#838923"/>
<polygon points="456.47,1455 491.24,1434.92 491.24,1475.08" fill="#838923"/>
<polygon points="462.77,1453.4 497.54,1433.32 497.54,1473.48" fill="#838923"/>
<polygon points="431.08,1490.8 396.31,1510.88 396.31,1470.72" fill="#12008E"/>
<polygon points="432.83,1487.8 398.06,1507.88 398.06,1467.72" fill="#12008E"/>
<polygon points="434.08,1484 399.31,1504.08 399.31,1463.92" fill="#12008E"/>
<polygon points="435.33,1480.3 400.56,1500.38 400.56,1460.22" fill="#12008E"/>
<polygon points="348.5,1495.23 364.58,1504.51 364.58,1523.09 348.5,1532.37 332.42,1523.09 332.42,1504.51" fill="#801A8C"/>
<polygon points="352.1,1494.93 368.18,1504.21 368.18,1522.79 352.1,1532.07 336.02,1522.79 336.02,1504.21" fill="#801A8C"/>
<polygon points="355.5,1500.33 371.58,1509.61 371.58,1528.19 355.5,1537.47 339.42,1528.19 339.42,1509.61" fill="#801A8C"/>
<polygon points="286,1530.5 290.96,1543.77 305.12,1544.39 294.03,1553.21 297.81,1566.86 286,1559.04 274.19,1566.86 277.97,1553.21 266.88,1544.39 281.04,1543.77" fill="#348D20"/>
<polygon points="288.3,1530.5 293.26,1543.77 307.42,1544.39 296.33,1553.21 300.11,1566.86 288.3,1559.04 276.49,1566.86 280.27,1553.21 269.18,1544.39 283.34,1543.77" fill="#348D20"/>
<polygon points="290.2,1530.52 295.16,1543.79 309.32,1544.41 298.23,1553.23 302.01,1566.88 290.2,1559.06 278.39,1566.88 282.17,1553.23 271.08,1544.41 285.24,1543.79" fill="#348D20"/>
<polygon points="292.5,1530.78 297.46,1544.05 311.62,1544.67 300.53,1553.49 304.31,1567.14 292.5,1559.32 280.69,1567.14 284.47,1553.49 273.38,1544.67 287.54,1544.05" fill="#348D20"/>
<polygon points="294.5,1531 299.46,1544.27 313.62,1544.89 302.53,1553.71 306.31,1567.36 294.5,1559.54 282.69,1567.36 286.47,1553.71 275.38,1544.89 289.54,1544.27" fill="#348D20"/>
<polygon points="297,1530.33 301.96,1543.6 316.12,1544.22 305.03,1553.04 308.81,1566.69 297,1558.88 285.19,1566.69 288.97,1553.04 277.88,1544.22 292.04,1543.6" fill="#348D20"/>
<polygon points="300,1529.53 304.96,1542.8 319.12,1543.42 308.03,1552.24 311.81,1565.89 300,1558.08 288.19,1565.89 291.97,1552.24 280.88,1543.42 295.04,1542.8" fill="#348D20"/>
<polygon points="302.5,1529.19 307.46,1542.46 321.62,1543.08 310.53,1551.9 314.31,1565.55 302.5,1557.74 290.69,1565.55 294.47,1551.9 283.38,1543.08 297.54,1542.46" fill="#348D20"/>
<polygon points="305.5,1528.88 310.46,1542.15 324.62,1542.77 313.53,1551.59 317.31,1565.24 305.5,1557.42 293.69,1565.24 297.47,1551.59 286.38,1542.77 300.54,1542.15" fill="#348D20"/>
<polygon points="308,1528.38 312.96,1541.65 327.12,1542.27 316.03,1551.09 319.81,1564.75 308,1556.93 296.19,1564.75 299.97,1551.09 288.88,1542.27 303.04,1541.65" fill="#348D20"/>
<polygon points="310.8,1527.7 315.76,1540.97 329.92,1541.59 318.83,1550.41 322.61,1564.06 310.8,1556.24 298.99,1564.06 302.77,1550.41 291.68,1541.59 305.84,1540.97" fill="#348D20"/>
<line x1="722.2" y1="751" x2="722.2" y2="759.2" stroke="#44FF0A" stroke-width="1.3"/>
<line x1="286" y1="1565" x2="286" y2="1570.5" stroke="#6FB060" stroke-width="1.4"/>
<line x1="291.25" y1="1565" x2="291.25" y2="1569.5" stroke="#6FB060" stroke-width="1.4"/>
<line x1="295" y1="1566" x2="295" y2="1568.5" stroke="#6FB060" stroke-width="1.4"/>
<rect x="588.7" y="225" width="372.3" height="302.8" fill="#fff"/>
<line x1="623.4" y1="484" x2="901.5" y2="270.3" stroke="#F66" stroke-width="1.1" stroke-dasharray="2.2 2.2"/>
<circle cx="623.4" cy="480.6" r="8.2" fill="#FF2010"/>
<circle cx="648.4" cy="471.8" r="8.2" fill="#FF2010"/>
<circle cx="648.4" cy="475.8" r="8.2" fill="#FF2010"/>
<circle cx="677" cy="435" r="8.2" fill="#FF2010"/>
<circle cx="707.4" cy="411.4" r="8.2" fill="#FF2010"/>
<circle cx="738.4" cy="402.6" r="8.2" fill="#FF2010"/>
<circle cx="738.4" cy="406.4" r="8.2" fill="#FF2010"/>
<circle cx="779.9" cy="372.2" r="8.2" fill="#FF2010"/>
<circle cx="828" cy="319.5" r="8.2" fill="#FF2010"/>
<circle cx="866.3" cy="290.6" r="8.2" fill="#FF2010"/>
<circle cx="871.4" cy="276.2" r="8.2" fill="#FF2010"/>
<circle cx="872.5" cy="282.1" r="8.2" fill="#FF2010"/>
<circle cx="898.6" cy="276.2" r="8.2" fill="#FF2010"/>
<circle cx="901.5" cy="281.8" r="8.2" fill="#FF2010"/>
<rect x="588.7" y="225" width="372.3" height="302.8" fill="none" stroke="#000" stroke-width="1.35"/>
<line x1="614.8" y1="225" x2="614.8" y2="235" stroke="#000" stroke-width="1.25"/>
<line x1="614.8" y1="527.8" x2="614.8" y2="517.8" stroke="#000" stroke-width="1.25"/>
<line x1="654.8" y1="225" x2="654.8" y2="230" stroke="#000" stroke-width="1.25"/>
<line x1="654.8" y1="527.8" x2="654.8" y2="522.8" stroke="#000" stroke-width="1.25"/>
<line x1="694.8" y1="225" x2="694.8" y2="235" stroke="#000" stroke-width="1.25"/>
<line x1="694.8" y1="527.8" x2="694.8" y2="517.8" stroke="#000" stroke-width="1.25"/>
<line x1="734.8" y1="225" x2="734.8" y2="230" stroke="#000" stroke-width="1.25"/>
<line x1="734.8" y1="527.8" x2="734.8" y2="522.8" stroke="#000" stroke-width="1.25"/>
<line x1="774.8" y1="225" x2="774.8" y2="235" stroke="#000" stroke-width="1.25"/>
<line x1="774.8" y1="527.8" x2="774.8" y2="517.8" stroke="#000" stroke-width="1.25"/>
<line x1="814.8" y1="225" x2="814.8" y2="230" stroke="#000" stroke-width="1.25"/>
<line x1="814.8" y1="527.8" x2="814.8" y2="522.8" stroke="#000" stroke-width="1.25"/>
<line x1="854.8" y1="225" x2="854.8" y2="235" stroke="#000" stroke-width="1.25"/>
<line x1="854.8" y1="527.8" x2="854.8" y2="517.8" stroke="#000" stroke-width="1.25"/>
<line x1="894.8" y1="225" x2="894.8" y2="230" stroke="#000" stroke-width="1.25"/>
<line x1="894.8" y1="527.8" x2="894.8" y2="522.8" stroke="#000" stroke-width="1.25"/>
<line x1="934.8" y1="225" x2="934.8" y2="235" stroke="#000" stroke-width="1.25"/>
<line x1="934.8" y1="527.8" x2="934.8" y2="517.8" stroke="#000" stroke-width="1.25"/>
<path d="M763 0H583V1118Q518 1058 412 997Q306 937 223 907V1076Q375 1146 489 1244Q603 1343 650 1429H763Z" fill="#000" transform="translate(588.26 559.94) scale(0.01279 -0.01279)"/>
<text x="602.83" y="559.94" font-family="'Liberation Sans', sans-serif" font-size="26.2" fill="#000">.</text>
<path d="M763 0H583V1118Q518 1058 412 997Q306 937 223 907V1076Q375 1146 489 1244Q603 1343 650 1429H763Z" fill="#000" transform="translate(610.11 559.94) scale(0.01279 -0.01279)"/>
<text x="624.68" y="559.94" font-family="'Liberation Sans', sans-serif" font-size="26.2" fill="#000">4</text>
<path d="M763 0H583V1118Q518 1058 412 997Q306 937 223 907V1076Q375 1146 489 1244Q603 1343 650 1429H763Z" fill="#000" transform="translate(668.39 559.82) scale(0.01279 -0.01279)"/>
<text x="682.96" y="559.82" font-family="'Liberation Sans', sans-serif" font-size="26.2" fill="#000">.20</text>
<path d="M763 0H583V1118Q518 1058 412 997Q306 937 223 907V1076Q375 1146 489 1244Q603 1343 650 1429H763Z" fill="#000" transform="translate(748.45 559.82) scale(0.01279 -0.01279)"/>
<text x="763.02" y="559.82" font-family="'Liberation Sans', sans-serif" font-size="26.2" fill="#000">.26</text>
<path d="M763 0H583V1118Q518 1058 412 997Q306 937 223 907V1076Q375 1146 489 1244Q603 1343 650 1429H763Z" fill="#000" transform="translate(828.54 559.82) scale(0.01279 -0.01279)"/>
<text x="843.11" y="559.82" font-family="'Liberation Sans', sans-serif" font-size="26.2" fill="#000">.32</text>
<path d="M763 0H583V1118Q518 1058 412 997Q306 937 223 907V1076Q375 1146 489 1244Q603 1343 650 1429H763Z" fill="#000" transform="translate(908.45 559.82) scale(0.01279 -0.01279)"/>
<text x="923.02" y="559.82" font-family="'Liberation Sans', sans-serif" font-size="26.2" fill="#000">.38</text>
<line x1="588.7" y1="480.8" x2="598.7" y2="480.8" stroke="#000" stroke-width="1.25"/>
<line x1="961" y1="480.8" x2="951" y2="480.8" stroke="#000" stroke-width="1.25"/>
<text x="525.66" y="488.92" font-family="'Liberation Sans', sans-serif" font-size="26.2" fill="#000">3.86</text>
<line x1="588.7" y1="419.7" x2="598.7" y2="419.7" stroke="#000" stroke-width="1.25"/>
<line x1="961" y1="419.7" x2="951" y2="419.7" stroke="#000" stroke-width="1.25"/>
<text x="525.82" y="427.82" font-family="'Liberation Sans', sans-serif" font-size="26.2" fill="#000">3.87</text>
<line x1="588.7" y1="358.6" x2="598.7" y2="358.6" stroke="#000" stroke-width="1.25"/>
<line x1="961" y1="358.6" x2="951" y2="358.6" stroke="#000" stroke-width="1.25"/>
<text x="525.75" y="366.72" font-family="'Liberation Sans', sans-serif" font-size="26.2" fill="#000">3.89</text>
<line x1="588.7" y1="297.5" x2="598.7" y2="297.5" stroke="#000" stroke-width="1.25"/>
<line x1="961" y1="297.5" x2="951" y2="297.5" stroke="#000" stroke-width="1.25"/>
<text x="525.53" y="305.62" font-family="'Liberation Sans', sans-serif" font-size="26.2" fill="#000">3.90</text>
<line x1="588.7" y1="236.4" x2="598.7" y2="236.4" stroke="#000" stroke-width="1.25"/>
<line x1="961" y1="236.4" x2="951" y2="236.4" stroke="#000" stroke-width="1.25"/>
<text x="525.82" y="244.52" font-family="'Liberation Sans', sans-serif" font-size="26.2" fill="#000">3.92</text>
<line x1="588.7" y1="511.35" x2="593.7" y2="511.35" stroke="#000" stroke-width="1.25"/>
<line x1="961" y1="511.35" x2="956" y2="511.35" stroke="#000" stroke-width="1.25"/>
<line x1="588.7" y1="450.25" x2="593.7" y2="450.25" stroke="#000" stroke-width="1.25"/>
<line x1="961" y1="450.25" x2="956" y2="450.25" stroke="#000" stroke-width="1.25"/>
<line x1="588.7" y1="389.15" x2="593.7" y2="389.15" stroke="#000" stroke-width="1.25"/>
<line x1="961" y1="389.15" x2="956" y2="389.15" stroke="#000" stroke-width="1.25"/>
<line x1="588.7" y1="328.05" x2="593.7" y2="328.05" stroke="#000" stroke-width="1.25"/>
<line x1="961" y1="328.05" x2="956" y2="328.05" stroke="#000" stroke-width="1.25"/>
<line x1="588.7" y1="266.95" x2="593.7" y2="266.95" stroke="#000" stroke-width="1.25"/>
<line x1="961" y1="266.95" x2="956" y2="266.95" stroke="#000" stroke-width="1.25"/>
<text x="719.91" y="596.5" font-family="'Liberation Sans', sans-serif" font-style="italic" font-size="41.44" fill="#000">r</text>
<text x="733.75" y="607.76" font-family="'Liberation Sans', sans-serif" font-style="italic" font-size="28.96" fill="#000">&lt;A&gt;</text>
<text x="786.9" y="596.42" font-family="'Liberation Sans', sans-serif" font-size="34.67" fill="#000">(</text>
<text x="799.14" y="596.11" font-family="'Liberation Sans', sans-serif" font-size="42.61" fill="#000">A</text>
<circle cx="813.2" cy="562.9" r="3.15" fill="none" stroke="#000" stroke-width="1.3"/>
<text x="829.8" y="596.42" font-family="'Liberation Sans', sans-serif" font-size="34.67" fill="#000">)</text>
<text x="606.51" y="276.8" font-family="'Liberation Sans', sans-serif" font-style="italic" font-size="30.65" fill="#000">C</text>
<text x="630.09" y="263.54" font-family="'Liberation Sans', sans-serif" font-style="italic" font-size="18.51" fill="#000">max</text>
<text x="629.08" y="285.6" font-family="'Liberation Sans', sans-serif" font-style="italic" font-size="20.64" fill="#000">4</text>
<text x="676.57" y="276.96" font-family="'Liberation Sans', sans-serif" font-size="29.84" fill="#000">samples</text>
<text transform="translate(506.81 420.06) rotate(-90)" font-family="'Liberation Serif', serif" font-style="italic" font-size="28.28" fill="#000">a</text>
<text transform="translate(515.61 404.99) rotate(-90)" font-family="'Liberation Sans', sans-serif" font-size="19.81" fill="#000">tet</text>
<text transform="translate(506.78 374.32) rotate(-90)" font-family="'Liberation Sans', sans-serif" font-size="20.39" fill="#000">(</text>
<text transform="translate(506 366.75) rotate(-90)" font-family="'Liberation Sans', sans-serif" font-size="29.23" fill="#000">A</text>
<circle cx="482.75" cy="357" r="2.05" fill="none" stroke="#000" stroke-width="1.1"/>
<text transform="translate(506.78 346.17) rotate(-90)" font-family="'Liberation Sans', sans-serif" font-size="20.39" fill="#000">)</text>
<rect x="591.3" y="846.8" width="372.2" height="302.2" fill="#fff"/>
<rect x="618.3" y="1090.1" width="14.6" height="14.6" fill="#1A0AFF"/>
<rect x="643.5" y="1050.7" width="14.6" height="14.6" fill="#1A0AFF"/>
<rect x="672.1" y="1030.6" width="14.6" height="14.6" fill="#1A0AFF"/>
<rect x="702.3" y="1005.4" width="14.6" height="14.6" fill="#1A0AFF"/>
<rect x="733.5" y="990.7" width="14.6" height="14.6" fill="#1A0AFF"/>
<rect x="775.1" y="956.3" width="14.6" height="14.6" fill="#1A0AFF"/>
<rect x="823.1" y="927.3" width="14.6" height="14.6" fill="#1A0AFF"/>
<rect x="861.2" y="897.7" width="14.6" height="14.6" fill="#1A0AFF"/>
<rect x="866.1" y="897.2" width="14.6" height="14.6" fill="#1A0AFF"/>
<rect x="893.7" y="878.2" width="14.6" height="14.6" fill="#1A0AFF"/>
<rect x="896.2" y="877.7" width="14.6" height="14.6" fill="#1A0AFF"/>
<line x1="625" y1="1079.5" x2="904" y2="881.2" stroke="#F66" stroke-width="1.1" stroke-dasharray="2.2 2.2"/>
<rect x="591.3" y="846.8" width="372.2" height="302.2" fill="none" stroke="#000" stroke-width="1.35"/>
<line x1="617.5" y1="846.8" x2="617.5" y2="856.8" stroke="#000" stroke-width="1.25"/>
<line x1="617.5" y1="1149" x2="617.5" y2="1139" stroke="#000" stroke-width="1.25"/>
<line x1="657.5" y1="846.8" x2="657.5" y2="851.8" stroke="#000" stroke-width="1.25"/>
<line x1="657.5" y1="1149" x2="657.5" y2="1144" stroke="#000" stroke-width="1.25"/>
<line x1="697.5" y1="846.8" x2="697.5" y2="856.8" stroke="#000" stroke-width="1.25"/>
<line x1="697.5" y1="1149" x2="697.5" y2="1139" stroke="#000" stroke-width="1.25"/>
<line x1="737.5" y1="846.8" x2="737.5" y2="851.8" stroke="#000" stroke-width="1.25"/>
<line x1="737.5" y1="1149" x2="737.5" y2="1144" stroke="#000" stroke-width="1.25"/>
<line x1="777.5" y1="846.8" x2="777.5" y2="856.8" stroke="#000" stroke-width="1.25"/>
<line x1="777.5" y1="1149" x2="777.5" y2="1139" stroke="#000" stroke-width="1.25"/>
<line x1="817.5" y1="846.8" x2="817.5" y2="851.8" stroke="#000" stroke-width="1.25"/>
<line x1="817.5" y1="1149" x2="817.5" y2="1144" stroke="#000" stroke-width="1.25"/>
<line x1="857.5" y1="846.8" x2="857.5" y2="856.8" stroke="#000" stroke-width="1.25"/>
<line x1="857.5" y1="1149" x2="857.5" y2="1139" stroke="#000" stroke-width="1.25"/>
<line x1="897.5" y1="846.8" x2="897.5" y2="851.8" stroke="#000" stroke-width="1.25"/>
<line x1="897.5" y1="1149" x2="897.5" y2="1144" stroke="#000" stroke-width="1.25"/>
<line x1="937.5" y1="846.8" x2="937.5" y2="856.8" stroke="#000" stroke-width="1.25"/>
<line x1="937.5" y1="1149" x2="937.5" y2="1139" stroke="#000" stroke-width="1.25"/>
<path d="M763 0H583V1118Q518 1058 412 997Q306 937 223 907V1076Q375 1146 489 1244Q603 1343 650 1429H763Z" fill="#000" transform="translate(590.96 1181.14) scale(0.01279 -0.01279)"/>
<text x="605.53" y="1181.14" font-family="'Liberation Sans', sans-serif" font-size="26.2" fill="#000">.</text>
<path d="M763 0H583V1118Q518 1058 412 997Q306 937 223 907V1076Q375 1146 489 1244Q603 1343 650 1429H763Z" fill="#000" transform="translate(612.81 1181.14) scale(0.01279 -0.01279)"/>
<text x="627.38" y="1181.14" font-family="'Liberation Sans', sans-serif" font-size="26.2" fill="#000">4</text>
<path d="M763 0H583V1118Q518 1058 412 997Q306 937 223 907V1076Q375 1146 489 1244Q603 1343 650 1429H763Z" fill="#000" transform="translate(671.09 1181.02) scale(0.01279 -0.01279)"/>
<text x="685.66" y="1181.02" font-family="'Liberation Sans', sans-serif" font-size="26.2" fill="#000">.20</text>
<path d="M763 0H583V1118Q518 1058 412 997Q306 937 223 907V1076Q375 1146 489 1244Q603 1343 650 1429H763Z" fill="#000" transform="translate(751.15 1181.02) scale(0.01279 -0.01279)"/>
<text x="765.72" y="1181.02" font-family="'Liberation Sans', sans-serif" font-size="26.2" fill="#000">.26</text>
<path d="M763 0H583V1118Q518 1058 412 997Q306 937 223 907V1076Q375 1146 489 1244Q603 1343 650 1429H763Z" fill="#000" transform="translate(831.24 1181.02) scale(0.01279 -0.01279)"/>
<text x="845.81" y="1181.02" font-family="'Liberation Sans', sans-serif" font-size="26.2" fill="#000">.32</text>
<path d="M763 0H583V1118Q518 1058 412 997Q306 937 223 907V1076Q375 1146 489 1244Q603 1343 650 1429H763Z" fill="#000" transform="translate(911.15 1181.02) scale(0.01279 -0.01279)"/>
<text x="925.72" y="1181.02" font-family="'Liberation Sans', sans-serif" font-size="26.2" fill="#000">.38</text>
<line x1="591.3" y1="846.8" x2="601.3" y2="846.8" stroke="#000" stroke-width="1.25"/>
<line x1="963.5" y1="846.8" x2="953.5" y2="846.8" stroke="#000" stroke-width="1.25"/>
<path d="M763 0H583V1118Q518 1058 412 997Q306 937 223 907V1076Q375 1146 489 1244Q603 1343 650 1429H763Z" fill="#000" transform="translate(528.32 854.92) scale(0.01279 -0.01279)"/>
<text x="542.9" y="854.92" font-family="'Liberation Sans', sans-serif" font-size="26.2" fill="#000">3.2</text>
<line x1="591.3" y1="922.35" x2="601.3" y2="922.35" stroke="#000" stroke-width="1.25"/>
<line x1="963.5" y1="922.35" x2="953.5" y2="922.35" stroke="#000" stroke-width="1.25"/>
<path d="M763 0H583V1118Q518 1058 412 997Q306 937 223 907V1076Q375 1146 489 1244Q603 1343 650 1429H763Z" fill="#000" transform="translate(528.15 930.47) scale(0.01279 -0.01279)"/>
<text x="542.72" y="930.47" font-family="'Liberation Sans', sans-serif" font-size="26.2" fill="#000">2.8</text>
<line x1="591.3" y1="997.9" x2="601.3" y2="997.9" stroke="#000" stroke-width="1.25"/>
<line x1="963.5" y1="997.9" x2="953.5" y2="997.9" stroke="#000" stroke-width="1.25"/>
<path d="M763 0H583V1118Q518 1058 412 997Q306 937 223 907V1076Q375 1146 489 1244Q603 1343 650 1429H763Z" fill="#000" transform="translate(527.77 1006.15) scale(0.01279 -0.01279)"/>
<text x="542.35" y="1006.15" font-family="'Liberation Sans', sans-serif" font-size="26.2" fill="#000">2.4</text>
<line x1="591.3" y1="1073.45" x2="601.3" y2="1073.45" stroke="#000" stroke-width="1.25"/>
<line x1="963.5" y1="1073.45" x2="953.5" y2="1073.45" stroke="#000" stroke-width="1.25"/>
<path d="M763 0H583V1118Q518 1058 412 997Q306 937 223 907V1076Q375 1146 489 1244Q603 1343 650 1429H763Z" fill="#000" transform="translate(528.03 1081.57) scale(0.01279 -0.01279)"/>
<text x="542.6" y="1081.57" font-family="'Liberation Sans', sans-serif" font-size="26.2" fill="#000">2.0</text>
<line x1="591.3" y1="1149" x2="601.3" y2="1149" stroke="#000" stroke-width="1.25"/>
<line x1="963.5" y1="1149" x2="953.5" y2="1149" stroke="#000" stroke-width="1.25"/>
<path d="M763 0H583V1118Q518 1058 412 997Q306 937 223 907V1076Q375 1146 489 1244Q603 1343 650 1429H763Z" fill="#000" transform="translate(528.16 1157.12) scale(0.01279 -0.01279)"/>
<path d="M763 0H583V1118Q518 1058 412 997Q306 937 223 907V1076Q375 1146 489 1244Q603 1343 650 1429H763Z" fill="#000" transform="translate(542.73 1157.12) scale(0.01279 -0.01279)"/>
<text x="557.3" y="1157.12" font-family="'Liberation Sans', sans-serif" font-size="26.2" fill="#000">.6</text>
<line x1="591.3" y1="884.57" x2="596.3" y2="884.57" stroke="#000" stroke-width="1.25"/>
<line x1="963.5" y1="884.57" x2="958.5" y2="884.57" stroke="#000" stroke-width="1.25"/>
<line x1="591.3" y1="960.12" x2="596.3" y2="960.12" stroke="#000" stroke-width="1.25"/>
<line x1="963.5" y1="960.12" x2="958.5" y2="960.12" stroke="#000" stroke-width="1.25"/>
<line x1="591.3" y1="1035.67" x2="596.3" y2="1035.67" stroke="#000" stroke-width="1.25"/>
<line x1="963.5" y1="1035.67" x2="958.5" y2="1035.67" stroke="#000" stroke-width="1.25"/>
<line x1="591.3" y1="1111.22" x2="596.3" y2="1111.22" stroke="#000" stroke-width="1.25"/>
<line x1="963.5" y1="1111.22" x2="958.5" y2="1111.22" stroke="#000" stroke-width="1.25"/>
<text x="721.05" y="1218.8" font-family="'Liberation Sans', sans-serif" font-style="italic" font-size="44.6" fill="#000">r</text>
<text x="735.35" y="1229.92" font-family="'Liberation Sans', sans-serif" font-style="italic" font-size="28.85" fill="#000">&lt;A&gt;</text>
<text x="788.35" y="1219.42" font-family="'Liberation Sans', sans-serif" font-size="34.67" fill="#000">(</text>
<text x="800.54" y="1219.11" font-family="'Liberation Sans', sans-serif" font-size="42.61" fill="#000">A</text>
<circle cx="814.1" cy="1185.9" r="3.15" fill="none" stroke="#000" stroke-width="1.3"/>
<text x="830.9" y="1219.42" font-family="'Liberation Sans', sans-serif" font-size="34.67" fill="#000">)</text>
<text x="600.51" y="891.8" font-family="'Liberation Sans', sans-serif" font-style="italic" font-size="30.65" fill="#000">C</text>
<text x="624.09" y="878.54" font-family="'Liberation Sans', sans-serif" font-style="italic" font-size="18.51" fill="#000">max</text>
<text x="623.08" y="900.6" font-family="'Liberation Sans', sans-serif" font-style="italic" font-size="20.64" fill="#000">4</text>
<text x="670.57" y="891.96" font-family="'Liberation Sans', sans-serif" font-size="29.84" fill="#000">samples</text>
<text transform="translate(513.65 1034.33) rotate(-90)" font-family="'Liberation Sans', sans-serif" font-style="italic" font-size="35.78" fill="#000">c</text>
<text transform="translate(513.33 1007.21) rotate(-90)" font-family="'Liberation Sans', sans-serif" font-size="20.61" fill="#000">(</text>
<text transform="translate(513.21 1000.04) rotate(-90)" font-family="'Liberation Sans', sans-serif" font-size="35.51" fill="#000">A</text>
<circle cx="485.2" cy="988.2" r="2.25" fill="none" stroke="#000" stroke-width="1.1"/>
<text transform="translate(513.33 975.25) rotate(-90)" font-family="'Liberation Sans', sans-serif" font-size="20.61" fill="#000">)</text>
<rect x="587" y="1469.4" width="372.5" height="302.3" fill="#fff"/>
<rect x="614.3" y="1682.3" width="14.4" height="14.4" fill="#000000"/>
<rect x="639.5" y="1654.3" width="14.4" height="14.4" fill="#000000"/>
<rect x="668" y="1633.1" width="14.4" height="14.4" fill="#000000"/>
<rect x="698.3" y="1611.7" width="14.4" height="14.4" fill="#000000"/>
<rect x="729.5" y="1599.8" width="14.4" height="14.4" fill="#000000"/>
<rect x="771" y="1564.8" width="14.4" height="14.4" fill="#000000"/>
<rect x="819" y="1539.4" width="14.4" height="14.4" fill="#000000"/>
<rect x="857" y="1513.2" width="14.4" height="14.4" fill="#000000"/>
<rect x="862.4" y="1510.6" width="14.4" height="14.4" fill="#000000"/>
<rect x="889.3" y="1497" width="14.4" height="14.4" fill="#000000"/>
<rect x="892.5" y="1496.8" width="14.4" height="14.4" fill="#000000"/>
<line x1="621.2" y1="1678.5" x2="900" y2="1499.6" stroke="#F66" stroke-width="1.1" stroke-dasharray="2.2 2.2"/>
<rect x="587" y="1469.4" width="372.5" height="302.3" fill="none" stroke="#000" stroke-width="1.35"/>
<line x1="613.5" y1="1469.4" x2="613.5" y2="1479.4" stroke="#000" stroke-width="1.25"/>
<line x1="613.5" y1="1771.7" x2="613.5" y2="1761.7" stroke="#000" stroke-width="1.25"/>
<line x1="653.5" y1="1469.4" x2="653.5" y2="1474.4" stroke="#000" stroke-width="1.25"/>
<line x1="653.5" y1="1771.7" x2="653.5" y2="1766.7" stroke="#000" stroke-width="1.25"/>
<line x1="693.5" y1="1469.4" x2="693.5" y2="1479.4" stroke="#000" stroke-width="1.25"/>
<line x1="693.5" y1="1771.7" x2="693.5" y2="1761.7" stroke="#000" stroke-width="1.25"/>
<line x1="733.5" y1="1469.4" x2="733.5" y2="1474.4" stroke="#000" stroke-width="1.25"/>
<line x1="733.5" y1="1771.7" x2="733.5" y2="1766.7" stroke="#000" stroke-width="1.25"/>
<line x1="773.5" y1="1469.4" x2="773.5" y2="1479.4" stroke="#000" stroke-width="1.25"/>
<line x1="773.5" y1="1771.7" x2="773.5" y2="1761.7" stroke="#000" stroke-width="1.25"/>
<line x1="813.5" y1="1469.4" x2="813.5" y2="1474.4" stroke="#000" stroke-width="1.25"/>
<line x1="813.5" y1="1771.7" x2="813.5" y2="1766.7" stroke="#000" stroke-width="1.25"/>
<line x1="853.5" y1="1469.4" x2="853.5" y2="1479.4" stroke="#000" stroke-width="1.25"/>
<line x1="853.5" y1="1771.7" x2="853.5" y2="1761.7" stroke="#000" stroke-width="1.25"/>
<line x1="893.5" y1="1469.4" x2="893.5" y2="1474.4" stroke="#000" stroke-width="1.25"/>
<line x1="893.5" y1="1771.7" x2="893.5" y2="1766.7" stroke="#000" stroke-width="1.25"/>
<line x1="933.5" y1="1469.4" x2="933.5" y2="1479.4" stroke="#000" stroke-width="1.25"/>
<line x1="933.5" y1="1771.7" x2="933.5" y2="1761.7" stroke="#000" stroke-width="1.25"/>
<path d="M763 0H583V1118Q518 1058 412 997Q306 937 223 907V1076Q375 1146 489 1244Q603 1343 650 1429H763Z" fill="#000" transform="translate(586.96 1803.84) scale(0.01279 -0.01279)"/>
<text x="601.53" y="1803.84" font-family="'Liberation Sans', sans-serif" font-size="26.2" fill="#000">.</text>
<path d="M763 0H583V1118Q518 1058 412 997Q306 937 223 907V1076Q375 1146 489 1244Q603 1343 650 1429H763Z" fill="#000" transform="translate(608.81 1803.84) scale(0.01279 -0.01279)"/>
<text x="623.38" y="1803.84" font-family="'Liberation Sans', sans-serif" font-size="26.2" fill="#000">4</text>
<path d="M763 0H583V1118Q518 1058 412 997Q306 937 223 907V1076Q375 1146 489 1244Q603 1343 650 1429H763Z" fill="#000" transform="translate(667.09 1803.72) scale(0.01279 -0.01279)"/>
<text x="681.66" y="1803.72" font-family="'Liberation Sans', sans-serif" font-size="26.2" fill="#000">.20</text>
<path d="M763 0H583V1118Q518 1058 412 997Q306 937 223 907V1076Q375 1146 489 1244Q603 1343 650 1429H763Z" fill="#000" transform="translate(747.15 1803.72) scale(0.01279 -0.01279)"/>
<text x="761.72" y="1803.72" font-family="'Liberation Sans', sans-serif" font-size="26.2" fill="#000">.26</text>
<path d="M763 0H583V1118Q518 1058 412 997Q306 937 223 907V1076Q375 1146 489 1244Q603 1343 650 1429H763Z" fill="#000" transform="translate(827.24 1803.72) scale(0.01279 -0.01279)"/>
<text x="841.81" y="1803.72" font-family="'Liberation Sans', sans-serif" font-size="26.2" fill="#000">.32</text>
<path d="M763 0H583V1118Q518 1058 412 997Q306 937 223 907V1076Q375 1146 489 1244Q603 1343 650 1429H763Z" fill="#000" transform="translate(907.15 1803.72) scale(0.01279 -0.01279)"/>
<text x="921.72" y="1803.72" font-family="'Liberation Sans', sans-serif" font-size="26.2" fill="#000">.38</text>
<line x1="587" y1="1489.8" x2="597" y2="1489.8" stroke="#000" stroke-width="1.25"/>
<line x1="959.5" y1="1489.8" x2="949.5" y2="1489.8" stroke="#000" stroke-width="1.25"/>
<text x="531.31" y="1497.92" font-family="'Liberation Sans', sans-serif" font-size="26.2" fill="#000">400</text>
<line x1="587" y1="1576.5" x2="597" y2="1576.5" stroke="#000" stroke-width="1.25"/>
<line x1="959.5" y1="1576.5" x2="949.5" y2="1576.5" stroke="#000" stroke-width="1.25"/>
<text x="531.31" y="1584.62" font-family="'Liberation Sans', sans-serif" font-size="26.2" fill="#000">380</text>
<line x1="587" y1="1663.2" x2="597" y2="1663.2" stroke="#000" stroke-width="1.25"/>
<line x1="959.5" y1="1663.2" x2="949.5" y2="1663.2" stroke="#000" stroke-width="1.25"/>
<text x="531.31" y="1671.32" font-family="'Liberation Sans', sans-serif" font-size="26.2" fill="#000">360</text>
<line x1="587" y1="1749.8" x2="597" y2="1749.8" stroke="#000" stroke-width="1.25"/>
<line x1="959.5" y1="1749.8" x2="949.5" y2="1749.8" stroke="#000" stroke-width="1.25"/>
<text x="531.31" y="1757.92" font-family="'Liberation Sans', sans-serif" font-size="26.2" fill="#000">340</text>
<line x1="587" y1="1533.1" x2="592" y2="1533.1" stroke="#000" stroke-width="1.25"/>
<line x1="959.5" y1="1533.1" x2="954.5" y2="1533.1" stroke="#000" stroke-width="1.25"/>
<line x1="587" y1="1619.8" x2="592" y2="1619.8" stroke="#000" stroke-width="1.25"/>
<line x1="959.5" y1="1619.8" x2="954.5" y2="1619.8" stroke="#000" stroke-width="1.25"/>
<line x1="587" y1="1706.5" x2="592" y2="1706.5" stroke="#000" stroke-width="1.25"/>
<line x1="959.5" y1="1706.5" x2="954.5" y2="1706.5" stroke="#000" stroke-width="1.25"/>
<text x="714.12" y="1840.3" font-family="'Liberation Sans', sans-serif" font-style="italic" font-size="41.63" fill="#000">r</text>
<text x="727.75" y="1852.94" font-family="'Liberation Sans', sans-serif" font-style="italic" font-size="28.9" fill="#000">&lt;A&gt;</text>
<text x="780.57" y="1841.03" font-family="'Liberation Sans', sans-serif" font-size="35.1" fill="#000">(</text>
<text x="793.06" y="1840.73" font-family="'Liberation Sans', sans-serif" font-size="42.39" fill="#000">A</text>
<circle cx="807.1" cy="1807.6" r="3.15" fill="none" stroke="#000" stroke-width="1.3"/>
<text x="823.44" y="1841.03" font-family="'Liberation Sans', sans-serif" font-size="35.1" fill="#000">)</text>
<text x="599.98" y="1508.77" font-family="'Liberation Sans', sans-serif" font-style="italic" font-size="25.56" fill="#000">C</text>
<text x="619.78" y="1497.68" font-family="'Liberation Sans', sans-serif" font-style="italic" font-size="15.48" fill="#000">max</text>
<text x="618.92" y="1516.16" font-family="'Liberation Sans', sans-serif" font-style="italic" font-size="17.15" fill="#000">4</text>
<text x="658.82" y="1508.96" font-family="'Liberation Sans', sans-serif" font-size="25.03" fill="#000">samples</text>
<text transform="translate(505.1 1761.15) rotate(-90)" font-family="'Liberation Sans', sans-serif" font-size="30.4" fill="#000">Unit Cell Volume</text>
<text transform="translate(504.44 1526.81) rotate(-90)" font-family="'Liberation Sans', sans-serif" font-size="20.07" fill="#000">(</text>
<text transform="translate(504.3 1519.05) rotate(-90)" font-family="'Liberation Sans', sans-serif" font-size="29.23" fill="#000">A</text>
<circle cx="481.4" cy="1509.3" r="1.8" fill="none" stroke="#000" stroke-width="1"/>
<text transform="translate(487.81 1499.1) rotate(-90)" font-family="'Liberation Sans', sans-serif" font-size="19.63" fill="#000">3</text>
<text transform="translate(504.44 1487.28) rotate(-90)" font-family="'Liberation Sans', sans-serif" font-size="20.07" fill="#000">)</text>
</svg></body></html>
